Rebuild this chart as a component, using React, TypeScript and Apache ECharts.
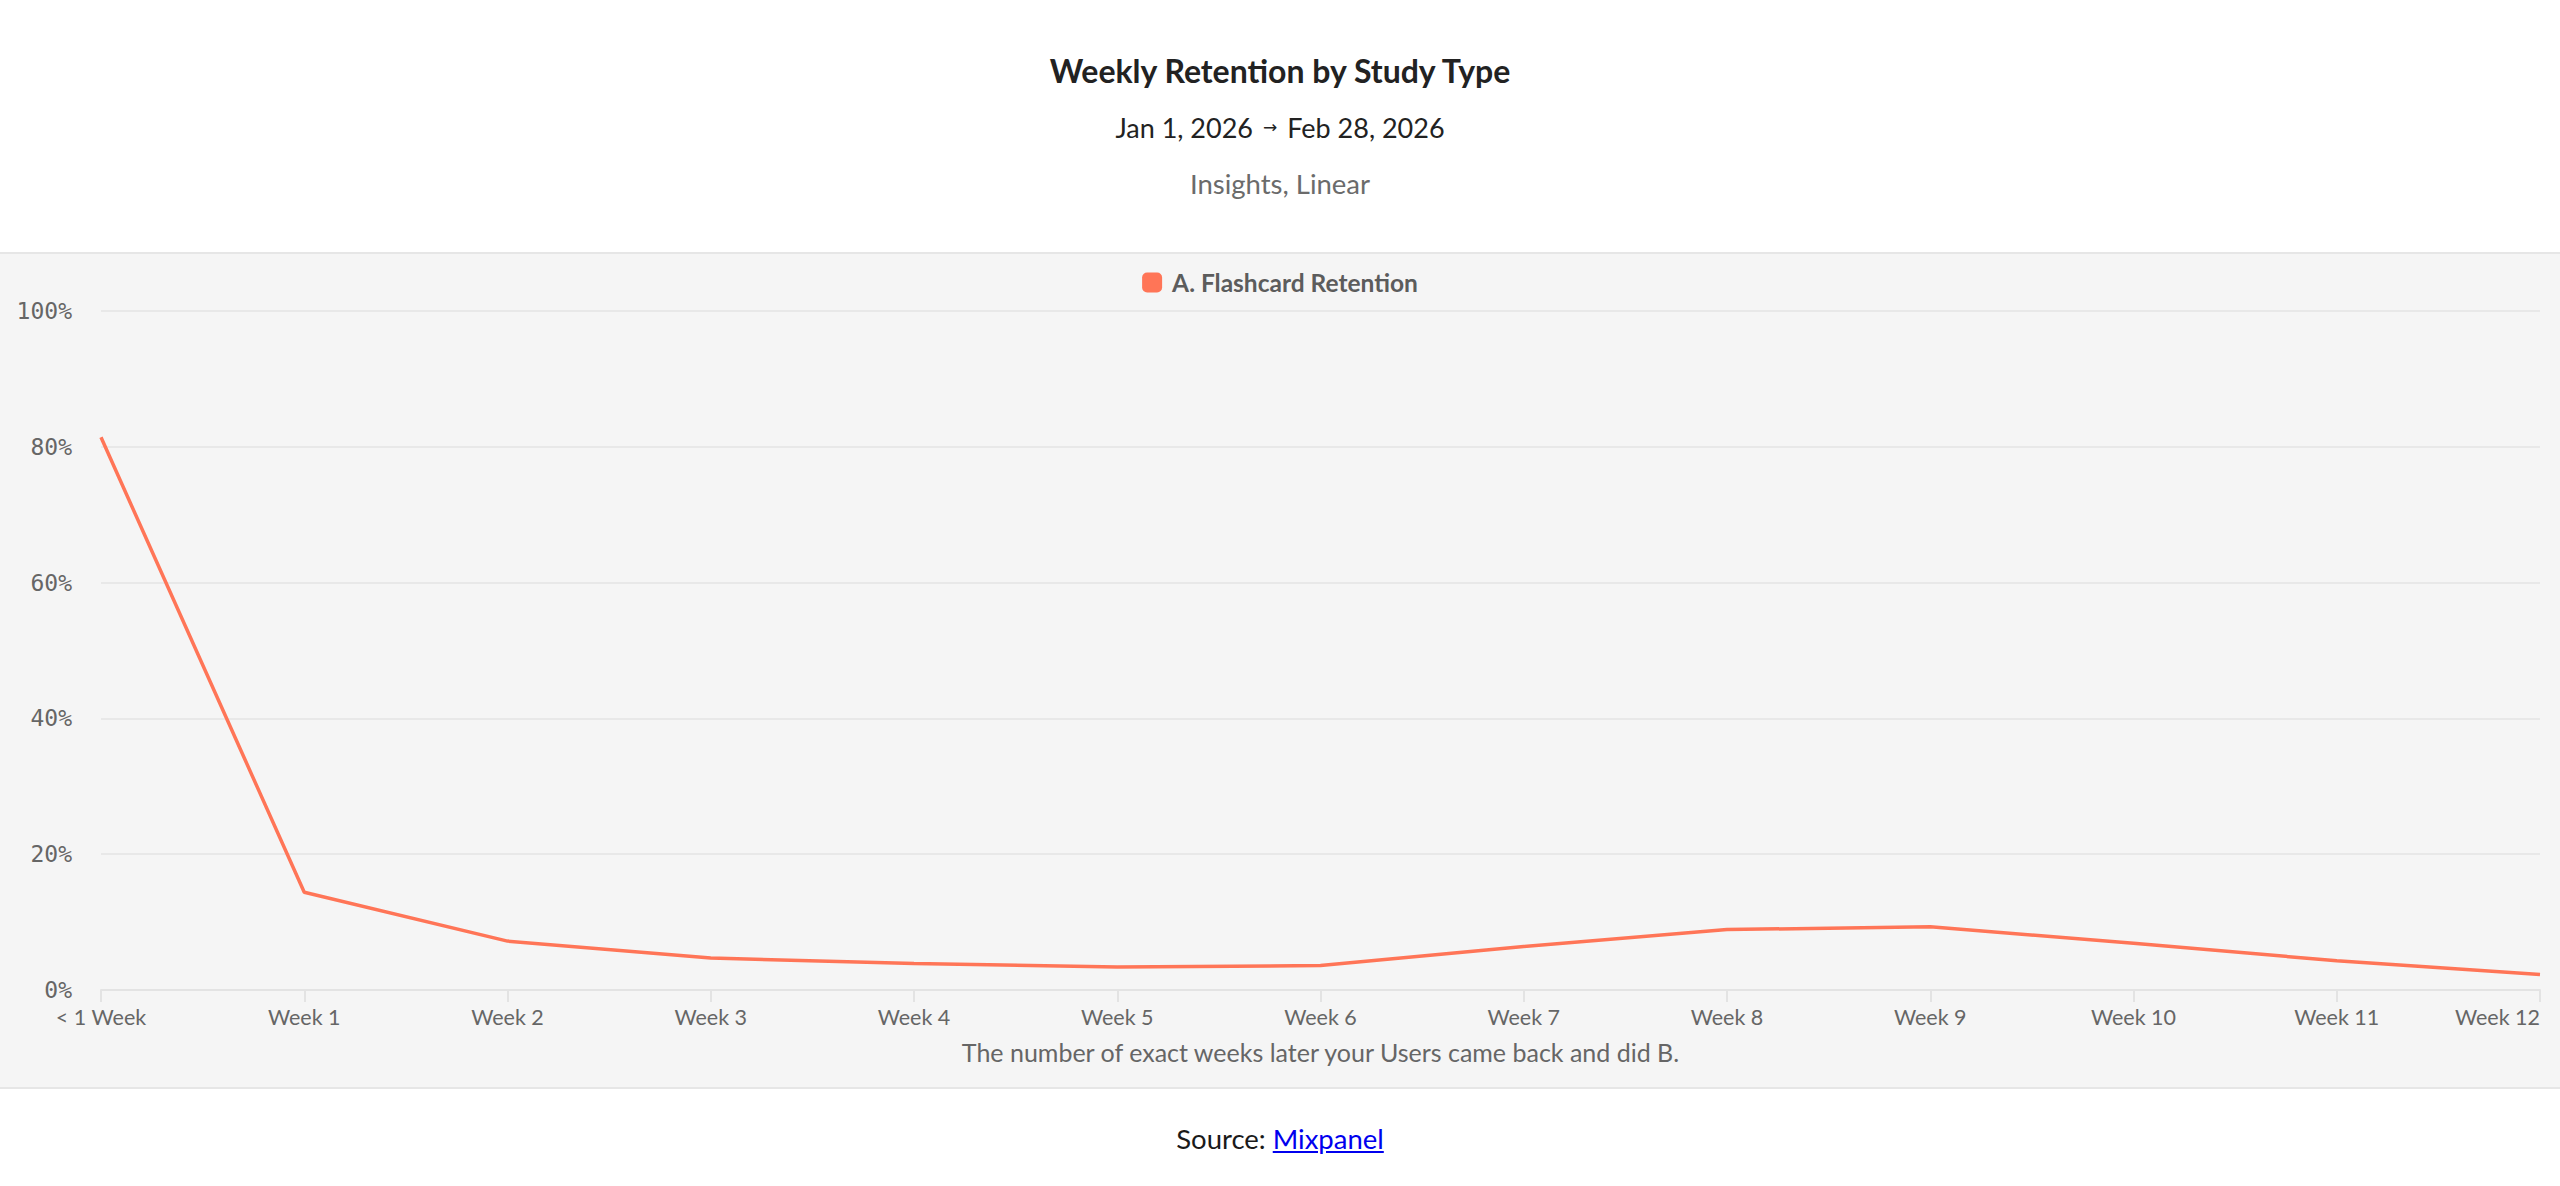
import React, { useEffect, useRef } from 'react';
import * as echarts from 'echarts';

const categories = ['< 1 Week', 'Week 1', 'Week 2', 'Week 3', 'Week 4', 'Week 5', 'Week 6', 'Week 7', 'Week 8', 'Week 9', 'Week 10', 'Week 11', 'Week 12'];
const retention = [81.4, 14.4, 7.2, 4.7, 3.9, 3.4, 3.6, 6.4, 8.9, 9.3, 6.9, 4.3, 2.3];
const seriesName = 'A. Flashcard Retention';
const titleText = 'Weekly Retention by Study Type';
const dateFrom = 'Jan 1, 2026';
const dateTo = 'Feb 28, 2026';
const subText = 'Insights, Linear';
const xAxisName = 'The number of exact weeks later your Users came back and did B.';

const W = 2560;
const H = 1186;
const FONT = 'Lato, "Noto Sans", sans-serif';

export default function App() {
  const ref = useRef<HTMLDivElement>(null);
  useEffect(() => {
    document.body.style.margin = '0';
    const chart = echarts.init(ref.current!, null, { renderer: 'svg' });
    chart.setOption({
      animation: false,
      backgroundColor: '#ffffff',
      graphic: [
        { type: 'rect', z: -100, shape: { x: 0, y: 252, width: W, height: 837 }, style: { fill: '#f5f5f5' } },
        { type: 'rect', z: -99, shape: { x: 0, y: 252, width: W, height: 2 }, style: { fill: '#e6e6e6' } },
        { type: 'rect', z: -99, shape: { x: 0, y: 1087, width: W, height: 2 }, style: { fill: '#e6e6e6' } },
        {
          type: 'text', x: W / 2, y: 70,
          style: { text: titleText, align: 'center', verticalAlign: 'middle', fontFamily: FONT, fontWeight: 'bold', fontSize: 32, fill: '#222222' },
        },
        {
          type: 'text', x: W / 2, y: 127,
          style: {
            text: '{a|' + dateFrom + '}   {b|→}   {a|' + dateTo + '}',
            align: 'center', verticalAlign: 'middle',
            rich: {
              a: { fontFamily: FONT, fontSize: 27, fill: '#222222' },
              b: { fontFamily: '"DejaVu Sans", sans-serif', fontSize: 17, fill: '#222222' },
            },
          },
        },
        {
          type: 'text', x: W / 2, y: 183,
          style: { text: subText, align: 'center', verticalAlign: 'middle', fontFamily: FONT, fontSize: 27.5, fill: '#6b6b6b' },
        },
      ],
      legend: {
        top: 265,
        left: 'center',
        icon: 'roundRect',
        itemWidth: 20,
        itemHeight: 20,
        textStyle: { fontFamily: FONT, fontWeight: 'bold', fontSize: 24.5, color: '#5c5c5c', padding: [0, 0, 0, 5] },
        data: [seriesName],
      },
      grid: { left: 101, right: 20, top: 311, bottom: H - 990, containLabel: false },
      xAxis: {
        type: 'category',
        data: categories,
        boundaryGap: false,
        axisLine: { lineStyle: { color: '#e3e3e3', width: 2 } },
        axisTick: { show: true, length: 12, lineStyle: { color: '#e3e3e3', width: 2 } },
        axisLabel: { fontFamily: FONT, fontSize: 21.5, color: '#666666', margin: 16, alignMaxLabel: 'right' },
        name: xAxisName,
        nameLocation: 'middle',
        nameGap: 49,
        nameTextStyle: { fontFamily: FONT, fontSize: 25, color: '#666666' },
      },
      yAxis: {
        type: 'value',
        min: 0,
        max: 100,
        interval: 20,
        axisLine: { show: false },
        axisTick: { show: false },
        splitLine: { lineStyle: { color: '#e8e8e8', width: 2 } },
        axisLabel: {
          formatter: '{value}%',
          fontFamily: '"DejaVu Sans Mono", monospace',
          fontSize: 23,
          color: '#666666',
          margin: 29,
          padding: [7, 0, 0, 0],
        },
      },
      series: [
        {
          name: seriesName,
          type: 'line',
          data: retention,
          color: '#ff7557',
          showSymbol: false,
          symbol: 'none',
          lineStyle: { width: 3.5, color: '#ff7557' },
        },
      ],
    });
    return () => chart.dispose();
  }, []);
  return (
    <div style={{ position: 'relative', width: W, height: H, overflow: 'hidden', background: '#ffffff' }}>
      <div ref={ref} style={{ width: W, height: H }} />
      <div
        style={{
          position: 'absolute', top: 1122, left: 0, width: W, textAlign: 'center',
          fontFamily: FONT, fontSize: 27.5, lineHeight: '34px', color: '#1a1a1a',
        }}
      >
        Source: <a href="https://mixpanel.com" style={{ color: '#0000ee' }}>Mixpanel</a>
      </div>
    </div>
  );
}
